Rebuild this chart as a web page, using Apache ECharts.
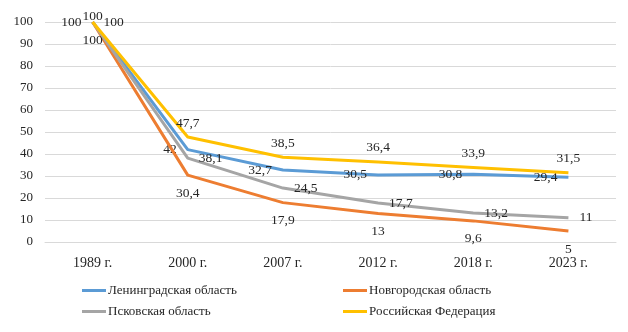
<!DOCTYPE html>
<html><head><meta charset="utf-8">
<script src="https://cdn.jsdelivr.net/npm/echarts@6/dist/echarts.min.js"></script>
<style>html,body{margin:0;padding:0;background:#fff}#c{width:628px;height:332px}</style>
</head><body><div id="c"></div>
<script>
var categories = ['1989 г.', '2000 г.', '2007 г.', '2012 г.', '2018 г.', '2023 г.'];
var leningrad = [100, 42, 32.7, 30.5, 30.8, 29.4];
var novgorod = [100, 30.4, 17.9, 13, 9.6, 5];
var pskov = [100, 38.1, 24.5, 17.7, 13.2, 11];
var russia = [100, 47.7, 38.5, 36.4, 33.9, 31.5];
var names = ['Ленинградская область', 'Новгородская область', 'Псковская область', 'Российская Федерация'];
var colors = ['#5B9BD5', '#ED7D31', '#A5A5A5', '#FFC000'];
var font = '"Liberation Serif", "DejaVu Serif", serif';
var chart = echarts.init(document.getElementById('c'));
function fmt(p){ return String(p.value).replace('.', ','); }
function ser(i, data, pos, dist){
  var d = data.map(function(v, k){
    if (i === 3 && k === 0) return {value:v, label:{distance:-1}};
    return v;
  });
  return {name: names[i], type:'line', data:d, symbol:'circle', symbolSize:0, showSymbol:true, z: i===3?5:i+2,
    lineStyle:{width:3, color:colors[i], join:'round'}, itemStyle:{color:colors[i]},
    label:{show:true, position:pos, distance:dist, formatter:fmt, color:'#262626', fontFamily:font, fontSize:13.5}};
}
function leg(i, left, top){
  return {data:[names[i]], left:left, top:top, icon:'rect', itemWidth:24, itemHeight:3, itemGap:2,
    textStyle:{fontFamily:font, fontSize:13, color:'#262626', padding:[0,0,0,-3]}, padding:0};
}
chart.setOption({
  animation:false,
  grid:{left:45, right:12, top:22, bottom:90},
  xAxis:{type:'category', data:categories, boundaryGap:true,
    axisLine:{show:true, lineStyle:{color:'#d9d9d9'}}, axisTick:{show:false},
    axisLabel:{fontFamily:font, fontSize:14, color:'#262626', margin:14}},
  yAxis:{type:'value', min:0, max:100, interval:10,
    axisLabel:{fontFamily:font, fontSize:13, color:'#262626', margin:12},
    splitLine:{lineStyle:{color:'#d9d9d9', width:1}}, axisLine:{show:false}, axisTick:{show:false}},
  legend:[leg(0, 82, 284), leg(1, 343, 284), leg(2, 82, 305), leg(3, 343, 305)],
  series:[ser(0, leningrad, 'left', 11), ser(1, novgorod, 'bottom', 11), ser(2, pskov, 'right', 11), ser(3, russia, 'top', 7)]
});
</script></body></html>
